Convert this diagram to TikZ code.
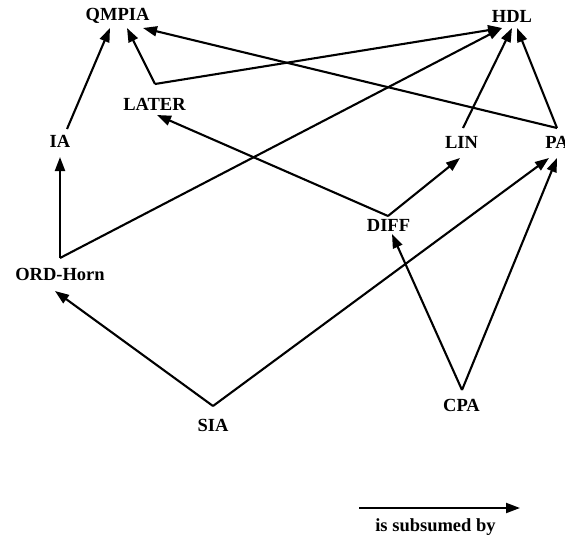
\documentclass[tikz,border=0pt]{standalone}
\usepackage{fontspec}
\setmainfont{Liberation Serif}
\usetikzlibrary{arrows.meta}
\begin{document}
\begin{tikzpicture}[x=1pt,y=-1pt,
  lbl/.style={font=\fontsize{18.5}{20}\selectfont\bfseries, inner sep=0pt},
  sub/.style={line width=2.1pt, -{Triangle[length=14pt,width=10pt]}}]
\useasboundingbox (0,0) rectangle (565,542);
\node[lbl] (qmpia) at (117.5,16) {QMPIA};
\node[lbl] (hdl) at (512,16) {HDL};
\node[lbl] (later) at (154.5,104) {LATER};
\node[lbl] (ia) at (60,141) {IA};
\node[lbl] (lin) at (461.5,142) {LIN};
\node[lbl] (pa) at (557,142) {PA};
\node[lbl] (diff) at (388.5,225) {DIFF};
\node[lbl] (ord) at (60,274) {ORD-Horn};
\node[lbl] (sia) at (213,425) {SIA};
\node[lbl] (cpa) at (461.5,405) {CPA};
% ports
\coordinate (laterT) at ([shift={(0.5,-20)}]later.center);
\coordinate (iaT) at ([shift={(7,-12)}]ia.center);
\coordinate (linT) at ([shift={(1.5,-14)}]lin.center);
\coordinate (paT) at ([shift={(0,-14)}]pa.center);
\coordinate (diffT) at ([shift={(-0.5,-9)}]diff.center);
\coordinate (ordT) at ([shift={(0,-16)}]ord.center);
\coordinate (siaT) at ([shift={(0,-19)}]sia.center);
\coordinate (cpaT) at ([shift={(0.5,-15)}]cpa.center);
% edges
\draw[sub] (iaT) -- ([shift={(-7.5,12)}]qmpia.center);
\draw[sub] (laterT) -- ([shift={(9.5,12)}]qmpia.center);
\draw[sub] (paT) -- ([shift={(25.5,12)}]qmpia.center);
\draw[sub] (laterT) -- ([shift={(-10,12)}]hdl.center);
\draw[sub] (ordT) -- ([shift={(-10,12)}]hdl.center);
\draw[sub] (linT) -- ([shift={(0,12)}]hdl.center);
\draw[sub] (paT) -- ([shift={(5,12)}]hdl.center);
\draw[sub] (diffT) -- ([shift={(-1.5,16)}]lin.center);
\draw[sub] (diffT) -- ([shift={(2.5,11)}]later.center);
\draw[sub] (cpaT) -- ([shift={(3.5,9)}]diff.center);
\draw[sub] (cpaT) -- ([shift={(0,16)}]pa.center);
\draw[sub] (siaT) -- ([shift={(-8,16)}]pa.center);
\draw[sub] (siaT) -- ([shift={(-5,17)}]ord.center);
\draw[sub] (ordT) -- ([shift={(0,16)}]ia.center);
% legend
\coordinate (legA) at (359,508);
\coordinate (legB) at (520,508);
\draw[sub] (legA) -- (legB);
\node[lbl] (legT) at (435.5,527) {is subsumed by};
\end{tikzpicture}
\end{document}
